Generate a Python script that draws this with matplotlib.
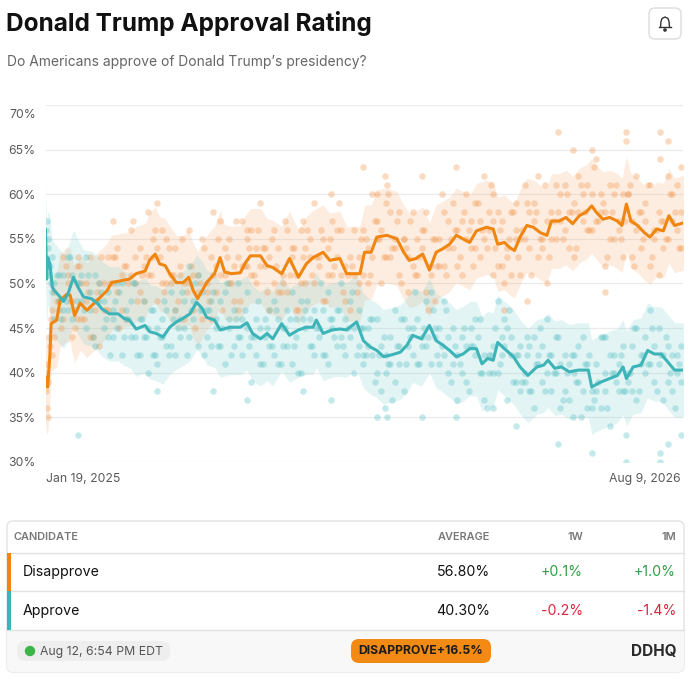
import matplotlib
matplotlib.use("Agg")
import matplotlib.pyplot as plt
import matplotlib.transforms as mtrans
from matplotlib.patches import FancyBboxPatch, Rectangle, Circle
from matplotlib.lines import Line2D
import numpy as np

plt.rcParams['font.family'] = ['Inter', 'DejaVu Sans']

# ---------------- data ----------------
title = "Donald Trump Approval Rating"
subtitle = "Do Americans approve of Donald Trump\u2019s presidency?"
y_ticks = [30, 35, 40, 45, 50, 55, 60, 65, 70]
x_tick_days = [0, 567]
x_tick_labels = ["Jan 19, 2025", "Aug 9, 2026"]

# polling averages (days since Jan 19, 2025)
disapprove_days = [0, 1, 2, 4, 5, 10, 13, 19, 22, 26, 31, 37, 46, 55, 59, 67, 75, 81, 89, 93,
                   98, 102, 107, 111, 117, 123, 128, 132, 136, 140, 144, 151, 156, 160, 166, 174,
                   178, 183, 192, 198, 203, 211, 218, 226, 233, 239, 248, 254, 263, 269, 276, 281,
                   285, 291, 296, 305, 314, 320, 325, 331, 337, 343, 349, 355, 361, 367, 373, 379,
                   385, 394, 400, 404, 410, 415, 419, 424, 430, 436, 442, 448, 452, 459, 465, 471,
                   477, 483, 488, 492, 498, 504, 511, 515, 519, 523, 529, 535, 540, 546, 552, 557,
                   562, 570]
disapprove_avg = [39.5, 38.5, 38.4, 42.2, 45.5, 45.9, 48.1, 48.8, 48.7, 46.4, 47.8, 47.0, 48.1,
                  49.2, 50.1, 50.3, 50.5, 51.1, 51.4, 52.6, 53.3, 52.2, 52.0, 51.1, 50.1, 50.1,
                  50.7, 49.2, 48.3, 49.2, 50.1, 51.1, 52.9, 51.3, 51.1, 51.2, 52.2, 53.1, 53.1,
                  52.0, 51.8, 51.1, 52.8, 50.7, 52.2, 52.9, 53.5, 52.6, 52.8, 51.1, 51.1, 51.1,
                  53.5, 53.5, 55.2, 55.4, 55.0, 53.5, 52.6, 52.8, 53.3, 51.5, 53.5, 53.9, 54.4,
                  55.4, 55.0, 54.6, 55.9, 56.3, 56.1, 54.4, 54.6, 54.0, 53.7, 55.2, 56.5, 56.3,
                  55.7, 55.4, 57.0, 57.0, 57.4, 56.7, 57.6, 58.0, 58.7, 58.0, 57.2, 57.4, 57.0,
                  56.5, 58.9, 57.0, 56.5, 55.7, 55.2, 56.1, 55.9, 57.6, 56.5, 56.8]

approve_days = [0, 1, 2, 4, 6, 8, 13, 16, 20, 25, 29, 34, 41, 47, 50, 57, 65, 70, 75, 81, 89,
                93, 99, 105, 111, 117, 123, 129, 135, 140, 144, 151, 156, 165, 174, 180, 185, 192,
                198, 203, 211, 218, 226, 233, 239, 242, 248, 256, 263, 269, 278, 284, 290, 296,
                302, 309, 317, 323, 328, 336, 343, 349, 355, 361, 367, 373, 379, 385, 390, 395,
                400, 404, 410, 418, 424, 431, 439, 445, 449, 455, 461, 468, 476, 485, 488, 495,
                504, 511, 516, 519, 525, 532, 538, 544, 550, 556, 562, 570]
approve_avg = [56.0, 50.5, 52.9, 52.2, 49.6, 49.2, 48.5, 48.0, 48.8, 50.7, 49.6, 48.5, 48.3, 47.7,
               47.2, 46.6, 46.6, 46.1, 45.9, 44.9, 45.3, 44.6, 44.4, 44.0, 45.1, 45.7, 46.1, 46.6,
               47.9, 47.2, 46.2, 45.9, 44.8, 45.1, 45.1, 45.6, 44.4, 43.8, 44.4, 43.8, 45.5, 44.2,
               44.8, 45.1, 45.1, 45.9, 44.4, 44.8, 44.9, 44.8, 45.7, 43.6, 42.9, 42.5, 41.8, 42.0,
               42.3, 43.1, 44.2, 43.8, 45.3, 43.6, 43.1, 42.5, 41.8, 42.1, 42.7, 42.7, 41.0, 41.6,
               41.4, 43.4, 42.7, 41.8, 40.65, 39.7, 40.65, 40.85, 41.4, 40.5, 40.65, 40.1, 40.3,
               40.3, 38.4, 38.9, 39.35, 39.7, 40.65, 39.35, 40.65, 40.85, 42.5, 42.1, 42.1, 41.2,
               40.3, 40.3]

band_half_width = {"Disapprove": 5.3, "Approve": 5.3}

# individual polls: first days of term
early_poll_days = [0, 0, 1, 1, 2, 2, 3, 4, 5, 6, 6]
early_poll_approve = [56, 53, 57, 52, 55, 54, 51, 52, 50, 49, 53]
early_poll_disapprove = [38, 40, 36, 41, 39, 35, 44, 43, 46, 47, 42]

# individual polls: two polls on each of these days
poll_days = [8, 12, 16, 20, 24, 28, 32, 36, 40, 44, 48, 52, 56, 60, 64, 68, 72, 76, 80, 84, 88,
             92, 96, 100, 104, 108, 112, 116, 120, 124, 128, 132, 136, 140, 144, 148, 152, 156,
             160, 164, 168, 172, 176, 180, 184, 188, 192, 196, 200, 204, 208, 212, 216, 220, 224,
             228, 232, 236, 240, 244, 248, 252, 256, 260, 264, 268, 272, 276, 280, 284, 288, 292,
             296, 300, 304, 308, 312, 316, 320, 324, 328, 332, 336, 340, 344, 348, 352, 356, 360,
             364, 368, 372, 376, 380, 384, 388, 392, 396, 400, 404, 408, 412, 416, 420, 424, 428,
             432, 436, 440, 444, 448, 452, 456, 460, 464, 468, 472, 476, 480, 484, 488, 492, 496,
             500, 504, 508, 512, 516, 520, 524, 528, 532, 536, 540, 544, 548, 552, 556, 560, 564,
             568]
approve_poll_a = [50, 51, 47, 47, 46, 50, 51, 53, 49, 51, 48, 45, 44, 47, 50, 50, 47, 44, 44, 42,
                  44, 40, 47, 45, 46, 43, 43, 42, 46, 48, 52, 48, 51, 47, 44, 43, 46, 48, 49, 46,
                  43, 44, 42, 45, 39, 46, 45, 46, 43, 42, 41, 45, 47, 49, 46, 48, 45, 43, 42, 45,
                  47, 49, 46, 43, 44, 42, 44, 40, 47, 45, 45, 42, 40, 38, 42, 44, 47, 43, 46, 43,
                  42, 41, 44, 48, 49, 45, 41, 42, 40, 41, 37, 44, 43, 45, 42, 40, 37, 42, 43, 48,
                  44, 45, 42, 39, 38, 40, 43, 44, 42, 39, 40, 38, 40, 36, 42, 41, 42, 39, 38, 36,
                  38, 41, 44, 40, 42, 40, 38, 38, 40, 43, 45, 42, 40, 41, 39, 41, 37, 43, 42, 42,
                  39]
approve_poll_b = [46, 48, 51, 53, 51, 48, 48, 45, 47, 43, 50, 48, 49, 46, 45, 42, 46, 48, 50, 46,
                  48, 45, 42, 41, 44, 47, 49, 47, 44, 45, 44, 46, 43, 49, 47, 48, 45, 43, 41, 45,
                  47, 50, 46, 49, 44, 42, 41, 44, 47, 48, 46, 43, 43, 41, 44, 40, 47, 46, 47, 44,
                  42, 41, 45, 47, 50, 46, 48, 45, 43, 41, 43, 46, 46, 43, 40, 41, 39, 41, 38, 45,
                  45, 46, 43, 43, 41, 44, 45, 48, 44, 45, 42, 40, 39, 43, 46, 46, 42, 40, 40, 40,
                  42, 37, 44, 42, 43, 39, 38, 36, 41, 43, 46, 42, 44, 41, 38, 37, 40, 43, 44, 41,
                  36, 38, 36, 38, 34, 42, 41, 43, 39, 38, 37, 41, 44, 47, 43, 45, 42, 39, 38, 40,
                  43]
disapprove_poll_a = [44, 48, 53, 50, 44, 52, 50, 50, 44, 47, 50, 50, 53, 53, 49, 47, 52, 51, 50,
                     49, 52, 58, 53, 48, 50, 50, 51, 54, 51, 46, 56, 51, 51, 46, 49, 53, 52, 57,
                     54, 50, 48, 53, 52, 52, 51, 54, 59, 52, 47, 50, 49, 51, 56, 53, 47, 56, 54,
                     55, 50, 52, 55, 54, 57, 56, 51, 48, 53, 51, 50, 51, 54, 60, 55, 50, 53, 53,
                     55, 58, 55, 49, 58, 55, 56, 49, 51, 55, 55, 58, 57, 54, 52, 57, 55, 54, 54,
                     57, 62, 56, 51, 52, 52, 54, 58, 55, 51, 61, 58, 59, 53, 54, 57, 58, 61, 60,
                     56, 54, 59, 58, 57, 56, 60, 64, 58, 52, 55, 55, 57, 60, 60, 53, 62, 58, 59,
                     52, 55, 58, 57, 62, 60, 56, 54]
disapprove_poll_b = [49, 47, 46, 51, 48, 46, 46, 48, 53, 48, 43, 47, 47, 50, 54, 51, 46, 56, 53,
                     54, 48, 51, 55, 54, 56, 55, 50, 47, 52, 50, 50, 47, 49, 55, 50, 46, 49, 51,
                     51, 55, 52, 47, 57, 55, 56, 50, 52, 54, 53, 56, 54, 50, 49, 54, 51, 50, 50,
                     53, 59, 53, 48, 51, 51, 53, 56, 52, 47, 56, 53, 56, 50, 53, 57, 56, 59, 58,
                     54, 51, 55, 53, 52, 51, 54, 58, 52, 48, 52, 52, 54, 59, 56, 51, 60, 57, 59,
                     53, 55, 58, 57, 58, 57, 53, 51, 56, 55, 55, 54, 57, 62, 55, 50, 55, 55, 57,
                     61, 58, 53, 62, 60, 61, 56, 57, 60, 58, 61, 60, 56, 53, 60, 57, 56, 54, 57,
                     61, 56, 51, 54, 55, 57, 61, 58]

# individual polls: one poll on each of these days
poll_days_c = [10, 14, 18, 22, 26, 30, 34, 38, 42, 46, 50, 54, 58, 62, 66, 70, 74, 78, 82, 86,
               90, 94, 98, 102, 106, 110, 114, 118, 122, 126, 130, 134, 138, 142, 146, 150, 154,
               158, 162, 166, 170, 174, 178, 182, 186, 190, 194, 198, 202, 206, 210, 214, 218,
               222, 226, 230, 234, 238, 242, 246, 250, 254, 258, 262, 266, 270, 274, 278, 282,
               286, 290, 294, 298, 302, 306, 310, 314, 318, 322, 326, 330, 334, 338, 342, 346,
               350, 354, 358, 362, 366, 370, 374, 378, 382, 386, 390, 394, 398, 402, 406, 410,
               414, 418, 422, 426, 430, 434, 438, 442, 446, 450, 454, 458, 462, 466, 470, 474,
               478, 482, 486, 490, 494, 498, 502, 506, 510, 514, 518, 522, 526, 530, 534, 538,
               542, 546, 550, 554, 558, 562, 566]
approve_poll_c = [51, 46, 48, 53, 47, 50, 47, 51, 44, 48, 49, 46, 42, 48, 49, 44, 46, 50, 42, 46,
                  44, 47, 42, 44, 48, 42, 46, 45, 49, 42, 47, 50, 47, 42, 47, 49, 43, 45, 50, 42,
                  46, 44, 47, 43, 44, 48, 41, 45, 43, 47, 41, 45, 46, 43, 40, 46, 48, 43, 45, 50,
                  42, 46, 44, 47, 43, 45, 49, 42, 45, 42, 46, 39, 42, 44, 41, 37, 43, 46, 41, 44,
                  49, 41, 45, 44, 47, 42, 43, 47, 39, 43, 41, 45, 38, 43, 44, 40, 36, 42, 45, 41,
                  43, 47, 39, 42, 39, 42, 38, 41, 45, 38, 42, 40, 44, 37, 40, 42, 39, 35, 41, 42,
                  37, 39, 44, 36, 40, 39, 42, 38, 40, 45, 38, 42, 41, 45, 38, 42, 44, 40, 36, 41]
disapprove_poll_c = [48, 45, 52, 48, 45, 52, 46, 49, 44, 49, 53, 47, 50, 53, 45, 52, 50, 57, 48,
                     51, 53, 51, 56, 53, 49, 54, 51, 48, 55, 49, 52, 45, 50, 54, 48, 51, 55, 47,
                     53, 50, 57, 48, 52, 54, 51, 56, 54, 49, 55, 52, 49, 57, 51, 54, 47, 53, 56,
                     51, 53, 56, 48, 55, 52, 59, 49, 51, 52, 49, 55, 55, 51, 57, 55, 53, 60, 54,
                     57, 50, 54, 57, 51, 53, 56, 47, 55, 52, 60, 51, 55, 56, 53, 58, 56, 52, 59,
                     56, 54, 61, 54, 56, 50, 55, 58, 53, 56, 59, 51, 58, 55, 61, 53, 57, 58, 55,
                     60, 58, 54, 61, 58, 56, 63, 57, 59, 53, 58, 61, 55, 57, 61, 52, 58, 55, 61,
                     53, 56, 57, 55, 60, 58, 54]

# individual polls: outliers
extra_poll_days = [29, 60, 100, 150, 180, 230, 255, 284, 296, 303, 305, 336, 367, 400, 420, 458,
                   471, 488, 519, 519, 549, 549, 556, 568, 410, 430, 500]
extra_poll_approve = [33, 44, 38, 38, 37, 38, 37, 42, 35, 36, 35, 35, 35, 36, 34, 32, 35, 31, 30,
                      33, 30, 31, 32, 33, 46, 44, 44]
extra_poll_disapprove = [53, 57, 59, 58, 56, 57, 60, 63, 60, 62, 61, 62, 63, 60, 59, 67, 65, 65,
                         67, 66, 67, 64, 66, 63, 47, 48, 49]

# table values
candidates = ["Disapprove", "Approve"]
averages = ["56.80%", "40.30%"]
change_1w = ["+0.1%", "-0.2%"]
change_1m = ["+1.0%", "-1.4%"]
updated = "Aug 12, 6:54 PM EDT"
leader_text = "DISAPPROVE+16.5%"

# ---------------- style ----------------
ORANGE = '#f0850f'
TEAL = '#3db4b7'
ORANGE_DOT = '#f29a52'
TEAL_DOT = '#5cc3c5'
GREEN = '#2f9e44'
RED = '#d9263d'
W = H = 692

fig = plt.figure(figsize=(W / 100, H / 100), dpi=100)
fig.patch.set_facecolor('white')

# overlay in pixel coordinates for header and table
ov = fig.add_axes([0, 0, 1, 1])
ov.set_xlim(0, W)
ov.set_ylim(H, 0)
ov.axis('off')

ov.text(6, 24, title, fontsize=17.6, fontweight='bold', color='#111111', va='center', ha='left')
ov.text(7, 62, subtitle, fontsize=9.95, color='#666666', va='center', ha='left')

# bell button
ov.add_patch(FancyBboxPatch((649, 8), 32, 31, boxstyle="round,pad=0,rounding_size=6",
                            fc='white', ec='#dcdcdc', lw=1))
bx = [660.5, 661, 662, 665, 668, 669, 669.5]
by = [27, 21.5, 18.5, 17, 18.5, 21.5, 27]
ov.add_line(Line2D(bx, by, color='#333333', lw=1.0))
ov.add_line(Line2D([659, 671], [27.2, 27.2], color='#333333', lw=1.0))
ov.add_patch(Circle((665, 30), 1.1, color='#333333'))

# table
box = FancyBboxPatch((7, 521), 677, 151, boxstyle="round,pad=0,rounding_size=6",
                     fc='white', ec='#e3e3e3', lw=1, zorder=1)
ov.add_patch(box)
foot = Rectangle((7, 630), 677, 42, fc='#f8f8f8', ec='none', zorder=1.5)
ov.add_patch(foot)
foot.set_clip_path(box)
for yy in [553, 591, 630]:
    ov.add_line(Line2D([7, 684], [yy, yy], color='#e2e2e2', lw=1, zorder=2))
ov.add_patch(Rectangle((7, 553), 3.5, 38, fc=ORANGE, ec='none', zorder=3))
ov.add_patch(Rectangle((7, 591), 3.5, 39, fc=TEAL, ec='none', zorder=3))

hdr = dict(fontsize=7.9, color='#777777', fontweight='semibold', va='center', zorder=4)
ov.text(14, 537, "CANDIDATE", ha='left', **hdr)
ov.text(490, 537, "AVERAGE", ha='right', **hdr)
ov.text(583, 537, "1W", ha='right', **hdr)
ov.text(676, 537, "1M", ha='right', **hdr)

row_y = [572, 611]
RS = 10.2
for i, name in enumerate(candidates):
    ov.text(23, row_y[i], name, fontsize=RS, color='#111111', ha='left', va='center', zorder=4)
    ov.text(490, row_y[i], averages[i], fontsize=RS, color='#111111', ha='right', va='center', zorder=4)
    c1 = GREEN if change_1w[i].startswith('+') else RED
    c2 = GREEN if change_1m[i].startswith('+') else RED
    ov.text(583, row_y[i], change_1w[i], fontsize=RS, color=c1, ha='right', va='center', zorder=4)
    ov.text(676, row_y[i], change_1m[i], fontsize=RS, color=c2, ha='right', va='center', zorder=4)

ov.add_patch(FancyBboxPatch((17, 641), 153, 20, boxstyle="round,pad=0,rounding_size=9",
                            fc='#eeeeee', ec='none', zorder=3))
ov.add_patch(Circle((30, 651), 4.5, color='#3bb54a', zorder=4))
ov.text(40, 651.5, updated, fontsize=8.8, color='#555555', ha='left', va='center', zorder=4)
ov.add_patch(FancyBboxPatch((351, 639), 140, 24, boxstyle="round,pad=0,rounding_size=8",
                            fc='#f28a14', ec='none', zorder=3))
ov.text(421, 651.5, leader_text, fontsize=8.8, color='#1c1c1c', fontweight='bold',
        ha='center', va='center', zorder=4)
ov.text(676, 651.5, "DDHQ", fontsize=11, color='#2a2a2a', fontweight='bold', ha='right',
        va='center', zorder=4)

# ---------------- chart ----------------
x0, x1 = 45.5, 683.5
ytop, ybot = 105, 462
ax = fig.add_axes([x0 / W, 1 - ybot / H, (x1 - x0) / W, (ybot - ytop) / H])
ax.patch.set_alpha(0)
ax.set_xlim(0, 570)
ax.set_ylim(30, 70)
for s in ax.spines.values():
    s.set_visible(False)
ax.set_yticks(y_ticks)
ax.set_yticklabels([f"{v}%" for v in y_ticks])
ax.set_xticks(x_tick_days)
ax.set_xticklabels(x_tick_labels)
ax.tick_params(axis='both', length=0, labelsize=8.8, labelcolor='#5a5a5a')
ax.tick_params(axis='y', pad=7)
ax.tick_params(axis='x', pad=8)
xl = ax.get_xticklabels()
xl[0].set_ha('left')
xl[-1].set_ha('right')
top_lab = ax.get_yticklabels()[-1]
top_lab.set_transform(top_lab.get_transform() +
                      mtrans.ScaledTranslation(0, -8 / 100, fig.dpi_scale_trans))
ax.yaxis.grid(True, color='#ebebeb', lw=0.9)
ax.set_axisbelow(True)

d_days = np.array(disapprove_days)
d_avg = np.array(disapprove_avg)
a_days = np.array(approve_days)
a_avg = np.array(approve_avg)

ax.fill_between(d_days, d_avg - band_half_width["Disapprove"], d_avg + band_half_width["Disapprove"],
                color='#f7a86c', alpha=0.2, lw=0, zorder=1)
ax.fill_between(a_days, a_avg - band_half_width["Approve"], a_avg + band_half_width["Approve"],
                color='#74cbcd', alpha=0.2, lw=0, zorder=1)

n = min(len(poll_days), len(approve_poll_a), len(approve_poll_b),
        len(disapprove_poll_a), len(disapprove_poll_b))
m = min(len(poll_days_c), len(approve_poll_c), len(disapprove_poll_c))
all_days = early_poll_days + poll_days[:n] + poll_days[:n] + poll_days_c[:m] + extra_poll_days
all_app = (early_poll_approve + approve_poll_a[:n] + approve_poll_b[:n] + approve_poll_c[:m]
           + extra_poll_approve)
all_dis = (early_poll_disapprove + disapprove_poll_a[:n] + disapprove_poll_b[:n]
           + disapprove_poll_c[:m] + extra_poll_disapprove)

ax.scatter(all_days, all_dis, s=22, color=ORANGE_DOT, alpha=0.36, lw=0, zorder=2)
ax.scatter(all_days, all_app, s=22, color=TEAL_DOT, alpha=0.36, lw=0, zorder=2)

ax.plot(d_days, d_avg, color=ORANGE, lw=2.2, zorder=4, solid_joinstyle='round')
ax.plot(a_days, a_avg, color=TEAL, lw=2.2, zorder=4, solid_joinstyle='round')

fig.savefig("out.png", dpi=100, facecolor='white')
